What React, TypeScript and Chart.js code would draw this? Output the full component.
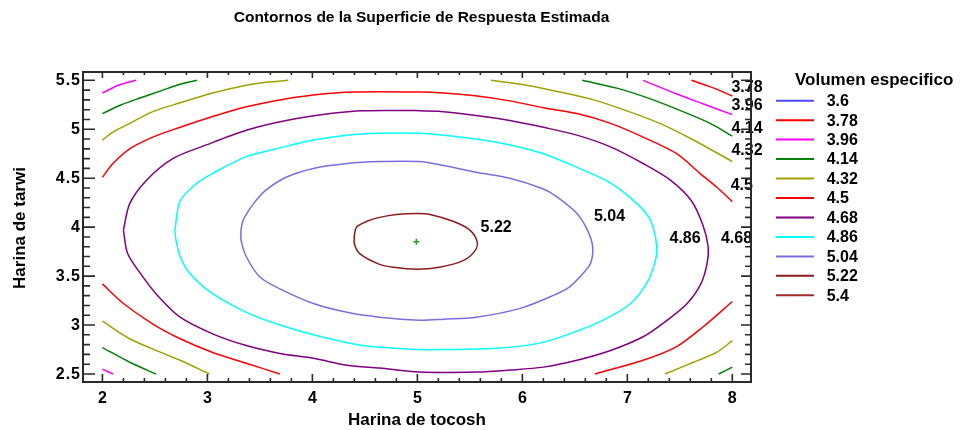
import { useEffect, useRef } from "react";
import { Chart, registerables } from "chart.js";

Chart.register(...registerables);

type P = [number, number];

const TITLE = "Contornos de la Superficie de Respuesta Estimada";
const X_TITLE = "Harina de tocosh";
const Y_TITLE = "Harina de tarwi";
const LEGEND_TITLE = "Volumen especifico";

// contour levels shown in the legend
const LEVELS = [3.6, 3.78, 3.96, 4.14, 4.32, 4.5, 4.68, 4.86, 5.04, 5.22, 5.4];
const LEVEL_LABELS = ["3.6", "3.78", "3.96", "4.14", "4.32", "4.5", "4.68", "4.86", "5.04", "5.22", "5.4"];
const LEVEL_COLORS = ["#4b4bff", "#ff0000", "#ff00ff", "#008000", "#a0a000", "#ff0000", "#800080", "#00ffff", "#7870dc", "#8c1c1c", "#a52a2a"];

// axes
const X_TICKS = [2, 3, 4, 5, 6, 7, 8];
const X_TICK_LABELS = ["2", "3", "4", "5", "6", "7", "8"];
const Y_TICKS = [2.5, 3, 3.5, 4, 4.5, 5, 5.5];
const Y_TICK_LABELS = ["2.5", "3", "3.5", "4", "4.5", "5", "5.5"];
const X_RANGE = [1.815, 8.178];
const Y_RANGE = [2.418, 5.585];

// contour lines: [Harina de tocosh, Harina de tarwi]
const c378_TR: P[] = [[7.61, 5.5], [7.8, 5.43], [8.0, 5.34]];
const c396_TR: P[] = [[7.15, 5.5], [7.47, 5.36], [7.72, 5.26], [8.0, 5.15]];
const c396_TL: P[] = [[2.0, 5.37], [2.15, 5.45], [2.32, 5.5]];
const c396_BL: P[] = [[2.0, 2.55], [2.1, 2.5]];
const c414_TL: P[] = [[2.0, 5.16], [2.18, 5.25], [2.36, 5.32], [2.55, 5.39], [2.74, 5.46], [2.9, 5.5]];
const c414_TR: P[] = [[6.57, 5.5], [6.9, 5.42], [7.22, 5.31], [7.53, 5.18], [7.79, 5.06], [8.0, 4.93]];
const c414_BL: P[] = [[2.0, 2.77], [2.26, 2.62], [2.51, 2.5]];
const c414_BR: P[] = [[7.87, 2.5], [8.0, 2.57]];
const c432_TL: P[] = [[2.0, 4.89], [2.1, 4.97], [2.26, 5.06], [2.48, 5.18], [2.74, 5.27], [3.05, 5.37], [3.37, 5.45], [3.56, 5.48], [3.77, 5.5]];
const c432_TR: P[] = [[5.7, 5.5], [6.04, 5.45], [6.36, 5.38], [6.68, 5.3], [6.99, 5.19], [7.31, 5.06], [7.63, 4.89], [8.0, 4.67]];
const c432_BL: P[] = [[2.0, 3.04], [2.26, 2.86], [2.58, 2.71], [2.74, 2.64], [3.02, 2.5]];
const c432_BR: P[] = [[7.36, 2.5], [7.63, 2.62], [7.85, 2.72], [8.0, 2.84]];
const c450_TOP: P[] = [
  [2.0, 4.51], [2.1, 4.65], [2.26, 4.8], [2.48, 4.92], [2.74, 5.02], [3.05, 5.13], [3.37, 5.23], [3.69, 5.3],
  [4.01, 5.35], [4.39, 5.38], [5.02, 5.38], [5.25, 5.37], [5.57, 5.34], [5.88, 5.29], [6.2, 5.22], [6.52, 5.16],
  [6.84, 5.06], [7.15, 4.92], [7.47, 4.75], [7.69, 4.55], [7.85, 4.41], [8.0, 4.26],
];
const c450_BL: P[] = [[2.0, 3.42], [2.2, 3.22], [2.48, 3.01], [2.74, 2.86], [3.05, 2.72], [3.37, 2.61], [3.69, 2.5]];
const c450_BR: P[] = [[6.69, 2.5], [7.15, 2.64], [7.47, 2.78], [7.72, 2.98], [8.0, 3.24]];
const c468_LOOP: P[] = [
  [2.2, 3.97], [2.26, 4.24], [2.42, 4.48], [2.67, 4.7], [2.99, 4.84], [3.37, 4.99], [3.75, 5.09], [4.17, 5.16],
  [4.48, 5.19], [5.02, 5.19], [5.25, 5.18], [5.56, 5.14], [5.88, 5.09], [6.2, 5.02], [6.52, 4.94], [6.84, 4.82],
  [7.15, 4.65], [7.41, 4.48], [7.61, 4.27], [7.72, 4.02], [7.77, 3.8], [7.76, 3.63], [7.7, 3.42], [7.57, 3.22],
  [7.38, 3.05], [7.15, 2.88], [6.84, 2.74], [6.52, 2.64], [6.2, 2.57], [5.88, 2.54], [5.56, 2.52], [5.02, 2.52],
  [4.64, 2.56], [4.33, 2.59], [4.01, 2.66], [3.69, 2.71], [3.37, 2.79], [3.05, 2.91], [2.74, 3.08], [2.51, 3.32],
  [2.36, 3.53], [2.24, 3.73], [2.2, 3.97],
];
const c486_LOOP: P[] = [
  [2.69, 3.97], [2.74, 4.27], [2.9, 4.45], [3.05, 4.55], [3.37, 4.72], [3.69, 4.81], [4.01, 4.89], [4.33, 4.94],
  [4.64, 4.96], [5.02, 4.96], [5.25, 4.94], [5.56, 4.9], [5.88, 4.84], [6.2, 4.75], [6.52, 4.61], [6.84, 4.45],
  [7.09, 4.24], [7.22, 4.07], [7.28, 3.8], [7.26, 3.63], [7.18, 3.42], [7.03, 3.22], [6.77, 3.05], [6.45, 2.91],
  [6.14, 2.81], [5.72, 2.76], [5.25, 2.75], [5.02, 2.75], [4.48, 2.79], [4.01, 2.9], [3.69, 3.0], [3.37, 3.13],
  [3.05, 3.32], [2.83, 3.53], [2.74, 3.7], [2.7, 3.87], [2.69, 3.97],
];
const c504_LOOP: P[] = [
  [3.32, 3.97], [3.34, 4.07], [3.44, 4.24], [3.56, 4.38], [3.75, 4.51], [4.01, 4.6], [4.33, 4.65], [4.64, 4.67],
  [5.02, 4.67], [5.25, 4.63], [5.56, 4.56], [5.88, 4.5], [6.2, 4.39], [6.33, 4.31], [6.52, 4.14], [6.62, 3.97],
  [6.67, 3.8], [6.65, 3.63], [6.58, 3.53], [6.45, 3.39], [6.29, 3.3], [5.98, 3.17], [5.56, 3.08], [5.25, 3.06],
  [5.02, 3.05], [4.64, 3.08], [4.33, 3.13], [4.01, 3.22], [3.69, 3.37], [3.5, 3.49], [3.37, 3.7], [3.32, 3.87],
  [3.32, 3.97],
];
const c522_LOOP: P[] = [
  [4.4, 3.92], [4.42, 4.0], [4.52, 4.06], [4.64, 4.1], [4.8, 4.13], [5.0, 4.14], [5.12, 4.13], [5.34, 4.06],
  [5.5, 3.97], [5.57, 3.85], [5.55, 3.76], [5.44, 3.66], [5.21, 3.59], [4.99, 3.57], [4.77, 3.59], [4.64, 3.62],
  [4.45, 3.73], [4.4, 3.83], [4.4, 3.92],
];

const SEGMENTS: { level: number; pts: P[] }[] = [
  { level: 3.78, pts: c378_TR },
  { level: 3.96, pts: c396_TR },
  { level: 3.96, pts: c396_TL },
  { level: 3.96, pts: c396_BL },
  { level: 4.14, pts: c414_TL },
  { level: 4.14, pts: c414_TR },
  { level: 4.14, pts: c414_BL },
  { level: 4.14, pts: c414_BR },
  { level: 4.32, pts: c432_TL },
  { level: 4.32, pts: c432_TR },
  { level: 4.32, pts: c432_BL },
  { level: 4.32, pts: c432_BR },
  { level: 4.5, pts: c450_TOP },
  { level: 4.5, pts: c450_BL },
  { level: 4.5, pts: c450_BR },
  { level: 4.68, pts: c468_LOOP },
  { level: 4.86, pts: c486_LOOP },
  { level: 5.04, pts: c504_LOOP },
  { level: 5.22, pts: c522_LOOP },
];

// estimated optimum
const OPTIMUM: P[] = [[4.99, 3.85]];

// contour label texts and their anchors (data units)
const LABEL_TEXTS = ["3.78", "3.96", "4.14", "4.32", "4.5", "4.68", "4.86", "5.04", "5.22"];
const LABEL_X = [8.14, 8.14, 8.14, 8.14, 8.09, 8.04, 7.55, 6.83, 5.75];
const LABEL_Y = [5.43, 5.24, 5.01, 4.785, 4.42, 3.88, 3.88, 4.11, 4.0];

const FONT = '"Liberation Sans", Arial, Helvetica, sans-serif';
const W = 962;
const H = 430;

const decorPlugin = {
  id: "decor",
  afterDatasetsDraw(chart: any) {
    const { ctx, chartArea: a, scales } = chart;
    const xs = scales.x;
    const ys = scales.y;
    ctx.save();
    // contour labels
    ctx.fillStyle = "#000";
    ctx.font = `bold 16px ${FONT}`;
    ctx.textAlign = "center";
    ctx.textBaseline = "middle";
    LABEL_TEXTS.forEach((t, i) => {
      ctx.fillText(t, xs.getPixelForValue(LABEL_X[i]), ys.getPixelForValue(LABEL_Y[i]));
    });
    // frame
    ctx.strokeStyle = "#2a2a2a";
    ctx.lineWidth = 2;
    ctx.strokeRect(a.left, a.top, a.right - a.left, a.bottom - a.top);
    // inward ticks (major + minor)
    ctx.lineWidth = 1.6;
    ctx.beginPath();
    const x0 = X_TICKS[0];
    const x1 = X_TICKS[X_TICKS.length - 1];
    const nx = Math.round((x1 - x0) / 0.2);
    for (let i = 0; i <= nx; i++) {
      const px = xs.getPixelForValue(x0 + i * 0.2);
      const major = i % 5 === 0;
      ctx.moveTo(px, a.bottom);
      ctx.lineTo(px, a.bottom - (major ? 8 : 4));
      ctx.moveTo(px, a.top);
      ctx.lineTo(px, a.top + (major ? 6 : 3));
    }
    const y0 = Y_TICKS[0];
    const y1 = Y_TICKS[Y_TICKS.length - 1];
    const ny = Math.round((y1 - y0) / 0.1);
    for (let i = 0; i <= ny; i++) {
      const py = ys.getPixelForValue(y0 + i * 0.1);
      const major = i % 5 === 0;
      ctx.moveTo(a.left, py);
      ctx.lineTo(a.left + (major ? 12 : 7), py);
      ctx.moveTo(a.right, py);
      ctx.lineTo(a.right - (major ? 10 : 6), py);
    }
    ctx.stroke();
    // tick labels
    ctx.font = `bold 16px ${FONT}`;
    try {
      ctx.letterSpacing = "1px";
    } catch (e) {}
    ctx.textBaseline = "middle";
    ctx.textAlign = "center";
    X_TICKS.forEach((v, i) => {
      ctx.fillText(X_TICK_LABELS[i], xs.getPixelForValue(v) + 0.5, a.bottom + 16.5);
    });
    ctx.textAlign = "right";
    Y_TICKS.forEach((v, i) => {
      ctx.fillText(Y_TICK_LABELS[i], a.left - 2, ys.getPixelForValue(v) + 0.5);
    });
    try {
      ctx.letterSpacing = "0px";
    } catch (e) {}
    ctx.restore();
  },
  afterDraw(chart: any) {
    const { ctx, chartArea: a } = chart;
    ctx.save();
    ctx.fillStyle = "#000";
    // main title
    ctx.font = `bold 15.5px ${FONT}`;
    ctx.textAlign = "center";
    ctx.textBaseline = "middle";
    ctx.fillText(TITLE, 421.5, 18);
    // axis titles
    ctx.font = `bold 17px ${FONT}`;
    ctx.fillText(X_TITLE, (a.left + a.right) / 2, 420);
    ctx.save();
    ctx.translate(20, (a.top + a.bottom) / 2 + 1);
    ctx.rotate(-Math.PI / 2);
    ctx.fillText(Y_TITLE, 0, 0);
    ctx.restore();
    // legend
    ctx.textAlign = "left";
    ctx.font = `bold 17px ${FONT}`;
    ctx.fillText(LEGEND_TITLE, 795, 80.7);
    ctx.font = `bold 16px ${FONT}`;
    LEVELS.forEach((lv, i) => {
      const yy = 100.7 + i * 19.46;
      ctx.strokeStyle = LEVEL_COLORS[i];
      ctx.lineWidth = 2;
      ctx.beginPath();
      ctx.moveTo(776, yy);
      ctx.lineTo(814, yy);
      ctx.stroke();
      ctx.fillText(LEVEL_LABELS[i], 826.7, yy + 1);
    });
    ctx.restore();
  },
};

export default function App() {
  const ref = useRef<HTMLCanvasElement | null>(null);
  useEffect(() => {
    if (!ref.current) return;
    const datasets: any[] = SEGMENTS.map((s) => ({
      label: String(s.level),
      data: s.pts.map(([x, y]) => ({ x, y })),
      showLine: true,
      borderColor: LEVEL_COLORS[LEVELS.indexOf(s.level)],
      borderWidth: 1.5,
      pointRadius: 0,
      tension: 0.3,
      fill: false,
    }));
    datasets.push({
      label: "optimum",
      data: OPTIMUM.map(([x, y]) => ({ x, y })),
      showLine: false,
      pointStyle: "cross",
      pointRadius: 3,
      borderColor: "#2e9a2e",
      borderWidth: 1.5,
    });
    const chart = new Chart(ref.current, {
      type: "scatter",
      data: { datasets },
      options: {
        animation: false,
        responsive: false,
        events: [],
        layout: { padding: { top: 72, right: W - 751, left: 0, bottom: 0 } },
        plugins: { legend: { display: false }, tooltip: { enabled: false }, title: { display: false } },
        scales: {
          x: {
            type: "linear",
            min: X_RANGE[0],
            max: X_RANGE[1],
            grid: { display: false, drawTicks: false },
            border: { display: false },
            afterBuildTicks: (s: any) => {
              s.ticks = X_TICKS.map((v) => ({ value: v }));
            },
            afterFit: (s: any) => {
              s.height = H - 382;
            },
            ticks: { display: false },
          },
          y: {
            type: "linear",
            min: Y_RANGE[0],
            max: Y_RANGE[1],
            grid: { display: false, drawTicks: false },
            border: { display: false },
            afterBuildTicks: (s: any) => {
              s.ticks = Y_TICKS.map((v) => ({ value: v }));
            },
            afterFit: (s: any) => {
              s.width = 83;
            },
            ticks: { display: false },
          },
        },
      },
      plugins: [decorPlugin],
    });
    return () => chart.destroy();
  }, []);
  return (
    <canvas
      ref={ref}
      width={W}
      height={H}
      style={{ position: "fixed", left: 0, top: 0, width: W, height: H, display: "block" }}
    />
  );
}
